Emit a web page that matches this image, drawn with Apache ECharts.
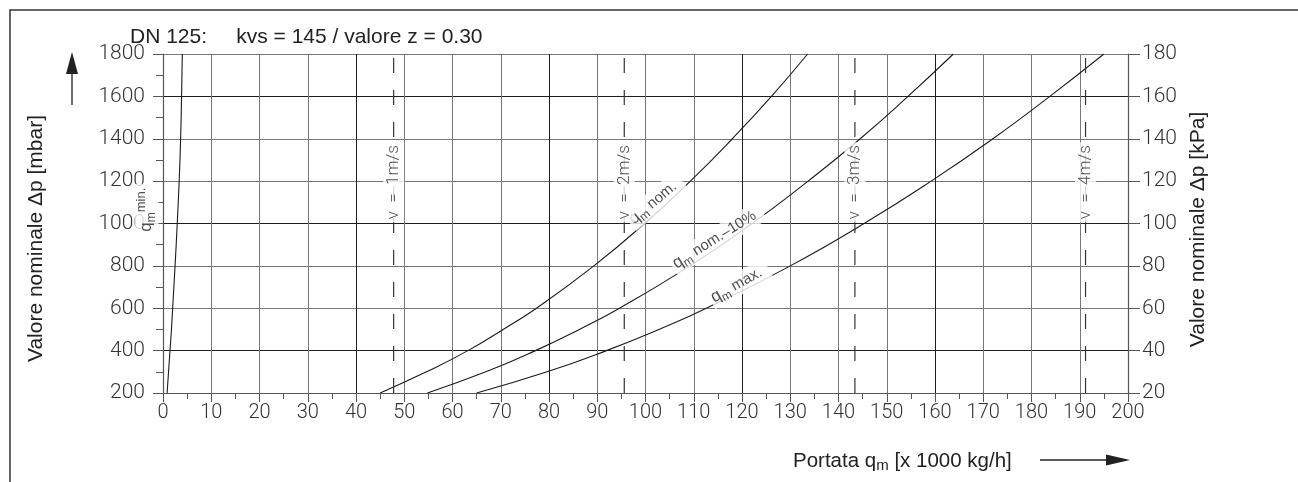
<!DOCTYPE html>
<html>
<head>
<meta charset="utf-8">
<script src="https://cdn.jsdelivr.net/npm/echarts@6/dist/echarts.min.js"></script>
<style>
  html, body { margin: 0; padding: 0; background: #fff; }
  #chart { width: 1298px; height: 482px; }
</style>
</head>
<body>
<div id="chart"></div>
<script>
// Pressure levels (mbar) at which the flow curves are sampled
const dpLevels = [200, 300, 400, 500, 600, 800, 1000, 1200, 1400, 1600, 1800];

// Flow rate q_m [x 1000 kg/h] at each pressure level
const qMin   = [0.85, 1.15, 1.45, 1.75, 2.0, 2.5, 2.95, 3.35, 3.65, 3.85, 4.0];
const qNom   = [45.0, 54.6, 63.2, 70.5, 77.4, 89.3, 99.8, 109.3, 118.0, 126.1, 133.6];
const qNom10 = [54.8, 66.9, 77.2, 86.3, 94.6, 109.2, 122.1, 133.7, 144.5, 154.4, 163.8];
const qMax   = [65.0, 79.6, 91.9, 102.8, 112.6, 130.0, 145.3, 159.2, 172.0, 183.8, 195.0];

// Flow speed reference lines (flow rate at which v = 1..4 m/s)
const speedFlows  = [47.8, 95.6, 143.4, 191.2];
const speedLabels = ['v  =  1m/s', 'v  =  2m/s', 'v  =  3m/s', 'v  =  4m/s'];
const speedLabelDp = 1195;

// Curve captions: [q, Δp, rotation, text]
const curveCaptions = [
  [-3.4, 1070, 90, '{q|q}{sub|m}{sup|min.}'],
  [102.0, 1106, 40, '{q|q}{sub|m}{t| nom.}'],
  [114.8, 931, 32, '{q|q}{sub|m}{t| nom.–10%}'],
  [119.4, 716, 29, '{q|q}{sub|m}{t| max.}']
];

const titleText = 'DN 125:     kvs = 145 / valore z = 0.30';
const yNameLeft = 'Valore nominale Δp [mbar]';
const yNameRight = 'Valore nominale Δp [kPa]';

const tickFont = { fontFamily: 'Roboto', fontWeight: 300, color: '#333', formatter: v => String(v) };
const textFont = 'Liberation Sans';

function pairs(qs) { return qs.map((q, i) => [q, dpLevels[i]]); }

const curveStyle = { color: '#1a1a1a', width: 1.1 };
const curveSeries = [qMin, qNom, qNom10, qMax].map(qs => ({
  type: 'line',
  data: pairs(qs),
  smooth: true,
  symbol: 'none',
  lineStyle: curveStyle,
  z: 3,
  silent: true
}));

const speedSeries = speedFlows.map(q => ({
  type: 'line',
  data: [[q, dpLevels[0]], [q, dpLevels[dpLevels.length - 1]]],
  symbol: 'none',
  lineStyle: { color: '#333', width: 1.2, type: [15, 17] },
  z: 3,
  silent: true
}));

const richParts = {
  q: { fontSize: 17, fontFamily: textFont, color: '#222' },
  sub: { fontSize: 12, fontFamily: textFont, color: '#222', padding: [10, 0, 0, 0] },
  sup: { fontSize: 13, fontFamily: textFont, color: '#222', padding: [0, 0, 11, 0] },
  t: { fontSize: 15, fontFamily: textFont, color: '#222' }
};

const captionSeries = {
  type: 'scatter',
  symbolSize: 0,
  clip: false,
  z: 10,
  silent: true,
  data: curveCaptions.map(c => ({
    value: [c[0], c[1]],
    label: {
      show: true,
      position: 'inside',
      rotate: c[2],
      formatter: c[3],
      rich: richParts,
      backgroundColor: '#fff',
      padding: c[2] === 90 ? [0, 4, 0, 2] : [0, 8, 0, 2]
    }
  })).concat(speedFlows.map((q, i) => ({
    value: [q, speedLabelDp],
    label: {
      show: true,
      position: 'inside',
      rotate: 90,
      formatter: speedLabels[i],
      fontFamily: 'Roboto',
      fontWeight: 300,
      fontSize: 17,
      color: '#222',
      backgroundColor: '#fff',
      padding: [2, 3, 2, 3]
    }
  })))
};

const chart = echarts.init(document.getElementById('chart'), null, { renderer: 'canvas' });

chart.setOption({
  animation: false,
  backgroundColor: '#fff',
  grid: { left: 163, right: 170, top: 54, bottom: 89 },
  xAxis: {
    type: 'value',
    min: 0, max: 200, interval: 10,
    axisLine: { show: true, lineStyle: { color: '#555', width: 1.2 } },
    axisTick: { show: true, length: 9, lineStyle: { color: '#555' } },
    minorTick: { show: true, splitNumber: 2, length: 6, lineStyle: { color: '#555' } },
    axisLabel: Object.assign({ margin: 10, fontSize: 20 }, tickFont),
    splitLine: { show: true, lineStyle: { color: ['#1e1e1e', '#777', '#777', '#777'], width: 1 } }
  },
  yAxis: [
    {
      type: 'value',
      position: 'left',
      min: 200, max: 1800, interval: 200,
      axisLine: { show: true, lineStyle: { color: '#555', width: 1.2 } },
      axisTick: { show: true, length: 10, lineStyle: { color: '#555' } },
      minorTick: { show: true, splitNumber: 2, length: 7, lineStyle: { color: '#555' } },
      axisLabel: Object.assign({ margin: 18, fontSize: 21 }, tickFont),
      splitLine: { show: true, lineStyle: { color: ['#777', '#1e1e1e', '#777'], width: 1 } },
      name: yNameLeft,
      nameLocation: 'middle',
      nameRotate: 90,
      nameGap: 116,
      nameTextStyle: { fontFamily: textFont, fontSize: 21, color: '#222', padding: [0, 30, 0, 0] }
    },
    {
      type: 'value',
      position: 'right',
      min: 20, max: 180, interval: 20,
      axisLine: { show: true, lineStyle: { color: '#555', width: 1.2 } },
      axisTick: { show: true, length: 12, lineStyle: { color: '#555' } },
      axisLabel: Object.assign({ margin: 14, fontSize: 21 }, tickFont),
      splitLine: { show: false },
      name: yNameRight,
      nameLocation: 'middle',
      nameRotate: 90,
      nameGap: 57,
      nameTextStyle: { fontFamily: textFont, fontSize: 21, color: '#222', padding: [0, 12, 0, 0] }
    }
  ],
  series: curveSeries.concat(speedSeries, [captionSeries]),
  graphic: [
    // page frame (top and left edges)
    { type: 'polyline', shape: { points: [[10, 482], [10, 10], [1298, 10]] }, style: { stroke: '#333', lineWidth: 1.5, fill: null }, silent: true },
    // heading
    { type: 'text', left: 130, top: 27, style: { text: titleText, font: '21px "Liberation Sans"', fill: '#222' }, silent: true },
    // upward arrow beside the pressure axis
    { type: 'line', shape: { x1: 72, y1: 105, x2: 72, y2: 72 }, style: { stroke: '#222', lineWidth: 1.3 }, silent: true },
    { type: 'polygon', shape: { points: [[66, 74], [78, 74], [72, 52]] }, style: { fill: '#222' }, silent: true },
    // flow axis title and arrow
    {
      type: 'text', x: 793, y: 461,
      style: {
        text: 'Portata q{sub|m} [x 1000 kg/h]',
        fontFamily: textFont, fontSize: 20.5, fill: '#222',
        verticalAlign: 'middle', align: 'left',
        rich: { sub: { fontFamily: textFont, fontSize: 15, fill: '#222', padding: [10, 0, 0, 0] } }
      },
      silent: true
    },
    { type: 'line', shape: { x1: 1040, y1: 460, x2: 1108, y2: 460 }, style: { stroke: '#222', lineWidth: 1.3 }, silent: true },
    { type: 'polygon', shape: { points: [[1106, 454.5], [1106, 465.5], [1130, 460]] }, style: { fill: '#222' }, silent: true }
  ]
});
</script>
</body>
</html>
